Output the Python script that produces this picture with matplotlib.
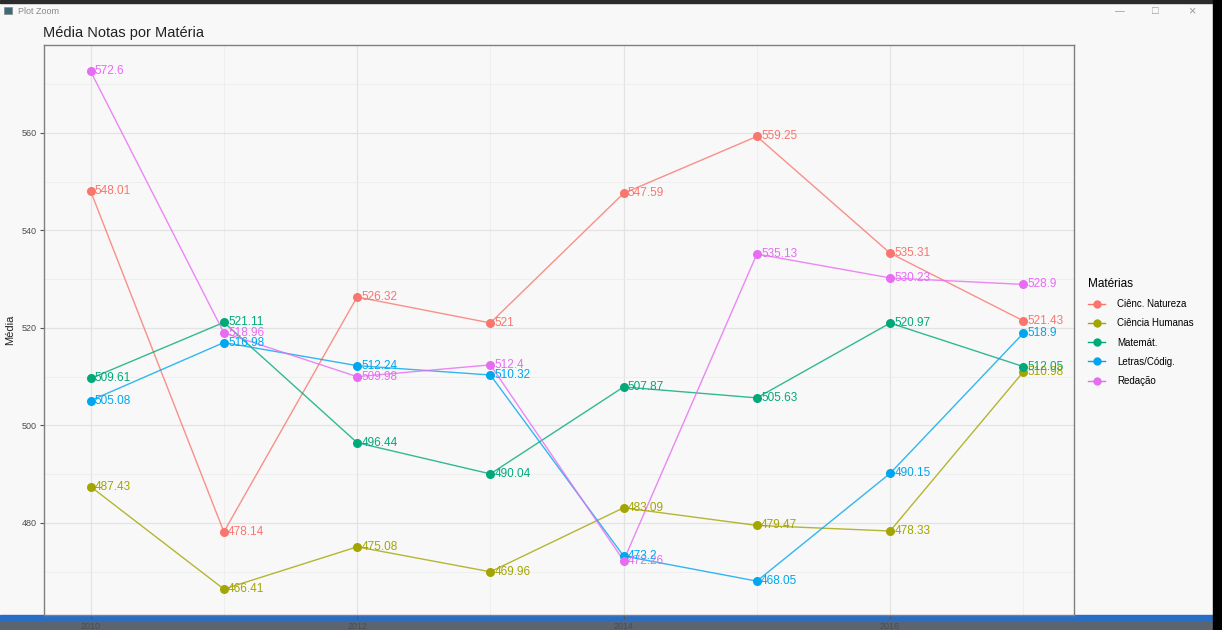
import matplotlib
matplotlib.use("Agg")
import matplotlib.pyplot as plt
from matplotlib.lines import Line2D
from matplotlib.patches import Rectangle
from matplotlib.ticker import MultipleLocator

plt.rcParams['font.family'] = ['Liberation Sans', 'DejaVu Sans']

years = [2010, 2011, 2012, 2013, 2014, 2015, 2016, 2017]
series_names = ["Ciênc. Natureza", "Ciência Humanas", "Matemát.", "Letras/Códig.", "Redação"]
natureza = [548.01, 478.14, 526.32, 521, 547.59, 559.25, 535.31, 521.43]
humanas = [487.43, 466.41, 475.08, 469.96, 483.09, 479.47, 478.33, 510.98]
matematica = [509.61, 521.11, 496.44, 490.04, 507.87, 505.63, 520.97, 512.05]
letras = [505.08, 516.98, 512.24, 510.32, 473.2, 468.05, 490.15, 518.9]
redacao = [572.6, 518.96, 509.98, 512.4, 472.26, 535.13, 530.23, 528.9]
x_ticks = [2010, 2012, 2014, 2016]
y_ticks = [480, 500, 520, 540, 560]

series = [natureza, humanas, matematica, letras, redacao]
colors = ["#F8766D", "#A3A500", "#00A97A", "#00A6EE", "#E76BF3"]

W, H = 1222, 630
fig = plt.figure(figsize=(W / 100, H / 100), dpi=100)
fig.patch.set_facecolor("#f8f8f8")

ax = fig.add_axes([44 / W, (H - 615) / H, (1074 - 44) / W, (615 - 45) / H])
ax.set_facecolor("#f8f8f8")

for vals, col in zip(series, colors):
    ax.plot(years, vals, color=col, lw=1.0, alpha=0.8, zorder=3)
    ax.plot(years, vals, 'o', color=col, ms=6.5, zorder=4, markeredgewidth=0)
    for x, v in zip(years, vals):
        ax.annotate(f"{v:g}", (x, v), xytext=(3, 0), textcoords="offset points",
                    ha="left", va="center", color=col, fontsize=8.5, zorder=5)

ax.set_xlim(2009.65, 2017.38)
ax.set_ylim(461.1, 578.0)
ax.set_xticks(x_ticks)
ax.set_yticks(y_ticks)
ax.xaxis.set_minor_locator(MultipleLocator(1))
ax.yaxis.set_minor_locator(MultipleLocator(10))
ax.grid(which="major", color="#e3e3e3", lw=0.9, zorder=0)
ax.grid(which="minor", color="#ededed", lw=0.6, zorder=0)
ax.set_axisbelow(True)
ax.tick_params(which="major", length=3, color="#555555", labelsize=6.5, labelcolor="#4d4d4d", pad=2)
ax.tick_params(which="minor", length=0)
for s in ax.spines.values():
    s.set_color("#7f7f7f")
    s.set_linewidth(1.0)

ax.set_ylabel("Média", fontsize=8, color="#222222", labelpad=5)
fig.text(43 / W, 1 - 33 / H, "Média Notas por Matéria", fontsize=10.5, color="#222222",
         ha="left", va="center")

handles = [Line2D([0], [0], color=c, marker='o', ms=6, lw=1.0, markeredgewidth=0) for c in colors]
leg = fig.legend(handles, series_names, title="Matérias", loc="upper left",
                 bbox_to_anchor=(1084 / W, 1 - 274 / H), frameon=False,
                 fontsize=7, title_fontsize=8.5, handlelength=1.8, labelspacing=0.95,
                 handletextpad=1.2, borderaxespad=0)
leg._legend_box.align = "left"

# window chrome
fig.patches.append(Rectangle((0, 1 - 3 / H), 1, 3 / H, transform=fig.transFigure,
                             color="#2b2b2b", zorder=10))
fig.patches.append(Rectangle((1213 / W, 0), 9 / W, 1, transform=fig.transFigure,
                             color="#000000", zorder=10))
fig.patches.append(Rectangle((0, 0), 1, 10 / H, transform=fig.transFigure,
                             color="#5b6570", zorder=-1))
fig.patches.append(Rectangle((0, 10 / H), 1, 5 / H, transform=fig.transFigure,
                             color="#2a6dc4", zorder=-1))
fig.text(18 / W, 1 - 11 / H, "Plot Zoom", fontsize=6.5, color="#888888", va="center")
fig.patches.append(Rectangle((4 / W, 1 - 14 / H), 8 / W, 7 / H, transform=fig.transFigure,
                             facecolor="#3d6b7a", edgecolor="#888888", lw=0.5, zorder=10))
fig.text(1120 / W, 1 - 11 / H, "—", fontsize=7, color="#999999", va="center", ha="center")
fig.text(1155 / W, 1 - 11 / H, "□", fontsize=8, color="#999999", va="center", ha="center")
fig.text(1192 / W, 1 - 11 / H, "×", fontsize=9, color="#999999", va="center", ha="center")

fig.savefig("out.png", dpi=100, facecolor=fig.get_facecolor())
